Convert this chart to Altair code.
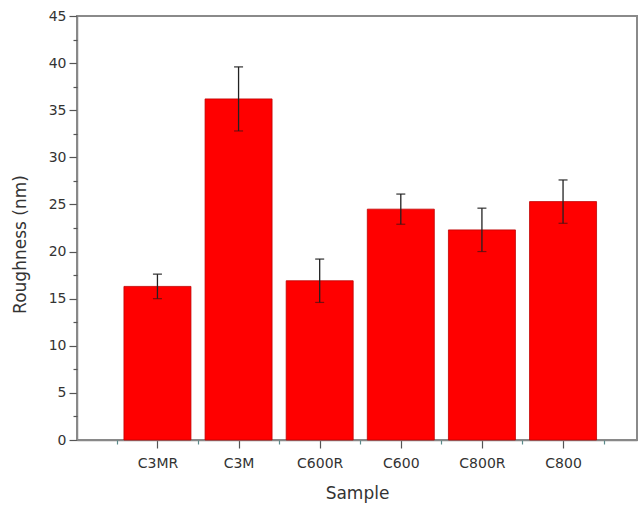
import altair as alt
import pandas as pd

samples = ["C3MR", "C3M", "C600R", "C600", "C800R", "C800"]
positions = [1, 2, 3, 4, 5, 6]
roughness = [16.3, 36.2, 16.9, 24.5, 22.3, 25.3]
errors = [1.3, 3.4, 2.3, 1.6, 2.3, 2.3]

y_major = [0, 5, 10, 15, 20, 25, 30, 35, 40, 45]
y_minor = [2.5, 7.5, 12.5, 17.5, 22.5, 27.5, 32.5, 37.5, 42.5]
x_minor = [0.5, 1.5, 2.5, 3.5, 4.5, 5.5, 6.5]

df = pd.DataFrame({"pos": positions, "sample": samples, "value": roughness, "err": errors})
df["lo"] = df["value"] - df["err"]
df["hi"] = df["value"] + df["err"]

FONT = "DejaVu Sans"
xscale = alt.Scale(domain=[0.07, 6.85], nice=False, zero=False)
yscale = alt.Scale(domain=[0, 45], nice=False, zero=True)

label_arr = "[" + ",".join(["''"] + [f"'{s}'" for s in samples]) + "]"

x_axis = alt.Axis(
    orient="bottom", values=positions, labelExpr=f"{label_arr}[datum.value]",
    title="Sample", titleFont=FONT, titleFontSize=17, titleFontWeight="normal",
    titleColor="#333", titleY=53, titleBaseline="middle",
    labelFont=FONT, labelFontSize=14, labelColor="#333", labelBaseline="top",
    labelPadding=8, tickSize=8, tickColor="#555", tickWidth=1.2,
    domainColor="#888", domainWidth=1.5, grid=False, labelFlush=False,
)
y_axis = alt.Axis(
    orient="left", values=y_major, title="Roughness (nm)",
    titleFont=FONT, titleFontSize=17, titleFontWeight="normal", titleColor="#333",
    titleX=-57, titleY=228, titleBaseline="middle", titleAngle=-90,
    labelFont=FONT, labelFontSize=14, labelColor="#333", labelPadding=3,
    tickSize=8, tickColor="#555", tickWidth=1.2,
    domainColor="#888", domainWidth=1.5, grid=False, labelFlush=False,
)
x_minor_axis = alt.Axis(orient="bottom", values=x_minor, labels=False, title=None,
                        tickSize=4, tickColor="#5a8a8a", tickWidth=1.2, domain=False, grid=False)
y_minor_axis = alt.Axis(orient="left", values=y_minor, labels=False, title=None,
                        tickSize=4, tickColor="#555", tickWidth=1.2, domain=False, grid=False)

base = alt.Chart(df)

bars = base.mark_bar(size=67, color="#ff0000", stroke="#c00000", strokeWidth=0.8).encode(
    x=alt.X("pos:Q", scale=xscale, axis=x_axis),
    y=alt.Y("value:Q", scale=yscale, axis=y_axis),
)

minor = base.mark_point(opacity=0).encode(
    x=alt.X("pos:Q", scale=xscale, axis=x_minor_axis),
    y=alt.Y("value:Q", scale=yscale, axis=y_minor_axis),
)

rule = base.mark_rule(color="#222", strokeWidth=1.3).encode(
    x=alt.X("pos:Q", scale=xscale, axis=None),
    y=alt.Y("lo:Q", scale=yscale, axis=None),
    y2="hi:Q",
)
cap_top = base.mark_tick(orient="horizontal", size=9, thickness=1.6, color="#222").encode(
    x=alt.X("pos:Q", scale=xscale, axis=None),
    y=alt.Y("hi:Q", scale=yscale, axis=None),
)
cap_bot = base.mark_tick(orient="horizontal", size=9, thickness=1.2, color="#441111").encode(
    x=alt.X("pos:Q", scale=xscale, axis=None),
    y=alt.Y("lo:Q", scale=yscale, axis=None),
)

chart = alt.layer(bars, minor, rule, cap_top, cap_bot).resolve_axis(
    x="independent", y="independent"
).properties(
    width=560, height=424,
    background="white",
    autosize=alt.AutoSizeParams(type="none"),
    padding={"left": 77, "top": 16, "right": 3, "bottom": 66},
).configure_view(stroke="#8a8a8a", strokeWidth=2)

chart.save("out.html", embed_options={"renderer": "svg", "actions": False})
